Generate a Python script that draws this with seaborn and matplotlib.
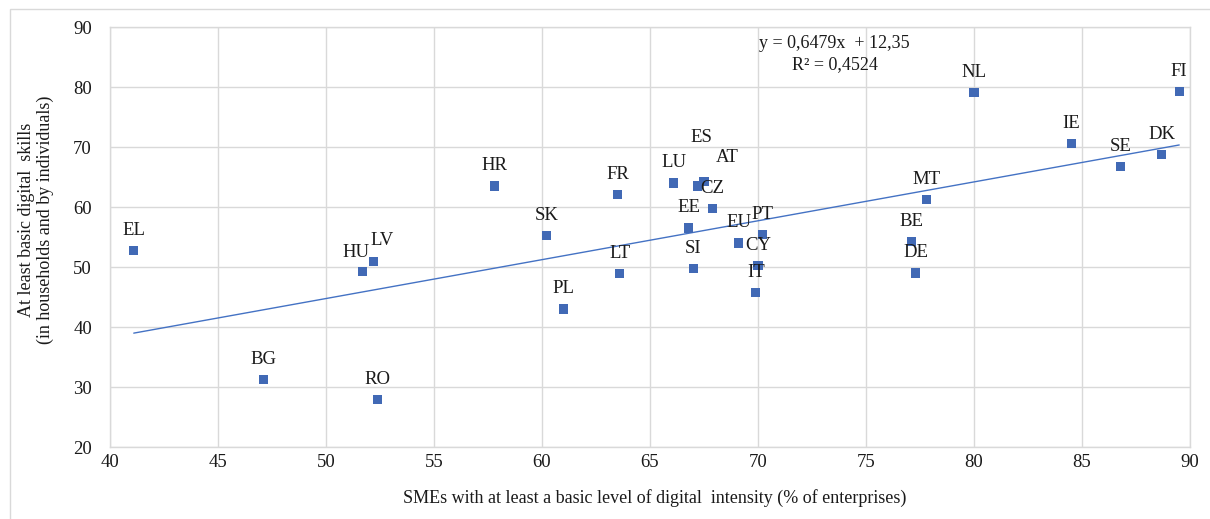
import matplotlib
matplotlib.use("Agg")
import matplotlib.pyplot as plt
from matplotlib.patches import Rectangle
from matplotlib.transforms import offset_copy
import seaborn as sns
import pandas as pd

# Country codes and indicator values
countries = ["EL", "BG", "RO", "HU", "LV", "HR", "SK", "PL", "FR", "LT",
             "LU", "AT", "ES", "EE", "SI", "CZ", "EU", "IT", "CY", "PT",
             "BE", "DE", "MT", "NL", "IE", "SE", "DK", "FI"]
sme_digital = [41.1, 47.1, 52.4, 51.7, 52.2, 57.8, 60.2, 61.0, 63.5, 63.6,
               66.1, 67.2, 67.5, 66.8, 67.0, 67.9, 69.1, 69.9, 70.0, 70.2,
               77.1, 77.3, 77.8, 80.0, 84.5, 86.8, 88.7, 89.5]
basic_skills = [52.7, 31.3, 27.9, 49.2, 50.9, 63.5, 55.3, 43.0, 62.1, 48.9,
                64.0, 63.5, 64.3, 56.5, 49.7, 59.8, 54.0, 45.7, 50.3, 55.4,
                54.3, 49.0, 61.3, 79.1, 70.6, 66.7, 68.7, 79.3]

# Linear trend as reported in the chart
slope = 0.6479
intercept = 12.35
r_squared = 0.4524

# Label offsets in points (dx, dy) for crowded points; default sits above
label_offsets = {"HU": (-5, 14), "LV": (6, 15.5), "ES": (-2, 31.5), "AT": (21.5, 20.5)}

df = pd.DataFrame({"country": countries, "sme": sme_digital, "skills": basic_skills})

sns.set_style("white")
plt.rcParams["font.family"] = ["Liberation Serif", "DejaVu Serif"]

fig = plt.figure(figsize=(12.10, 5.19), dpi=100)
W, H = 1210, 519
ax = fig.add_axes([110 / W, 1 - 447 / H, 1080 / W, 420 / H])

grid_c = "#d9d9d9"
blue = "#4169b5"

# Trend line over the observed x-range
x_line = [min(sme_digital), max(sme_digital)]
trend = pd.DataFrame({"x": x_line, "y": [slope * v + intercept for v in x_line]})
sns.lineplot(data=trend, x="x", y="y", ax=ax, color="#4472c4", linewidth=1.0, zorder=2)

sns.scatterplot(data=df, x="sme", y="skills", ax=ax, marker="s", s=42,
                color=blue, edgecolor="none", linewidth=0, zorder=3)

for c, xv, yv in zip(countries, sme_digital, basic_skills):
    dx, dy = label_offsets.get(c, (0, 14.5))
    tr = offset_copy(ax.transData, fig=fig, x=dx, y=dy, units="points")
    ax.text(xv, yv, c, transform=tr, ha="center", va="center",
            fontsize=13.5, color="#1a1a1a", zorder=4)

ax.set_xlim(40, 90)
ax.set_ylim(20, 90)
ax.set_xticks(range(40, 91, 5))
ax.set_yticks(range(20, 91, 10))
ax.grid(True, color=grid_c, linewidth=1.0)
ax.set_axisbelow(True)
for sp in ax.spines.values():
    sp.set_color(grid_c)
    sp.set_linewidth(1.0)
ax.tick_params(axis="both", length=0, labelsize=13.5, colors="#1a1a1a")
ax.tick_params(axis="y", pad=13)
ax.tick_params(axis="x", pad=5)
ax.set_xlabel("")
ax.set_ylabel("")

# Regression equation
ax.text(834, H - 44, "y = 0,6479x  + 12,35", transform=None, ha="center", va="center",
        fontsize=13, color="#1a1a1a")
ax.text(835, H - 65, "R² = 0,4524", transform=None, ha="center", va="center",
        fontsize=13, color="#1a1a1a")

fig.text(655 / W, 1 - 498 / H,
         "SMEs with at least a basic level of digital  intensity (% of enterprises)",
         ha="center", va="center", fontsize=13, color="#1a1a1a")
fig.text(36 / W, 1 - 220 / H,
         "At least basic digital  skills\n(in households and by individuals)",
         ha="center", va="center", rotation=90, fontsize=13, color="#1a1a1a",
         multialignment="center", linespacing=1.15)

# Chart area border
fig.patches.append(Rectangle((10 / W, -0.05), 1.2, 1 - 9 / H + 0.05, transform=fig.transFigure,
                             fill=False, edgecolor=grid_c, linewidth=1.0))

fig.savefig("out.png", dpi=100, facecolor="white")
